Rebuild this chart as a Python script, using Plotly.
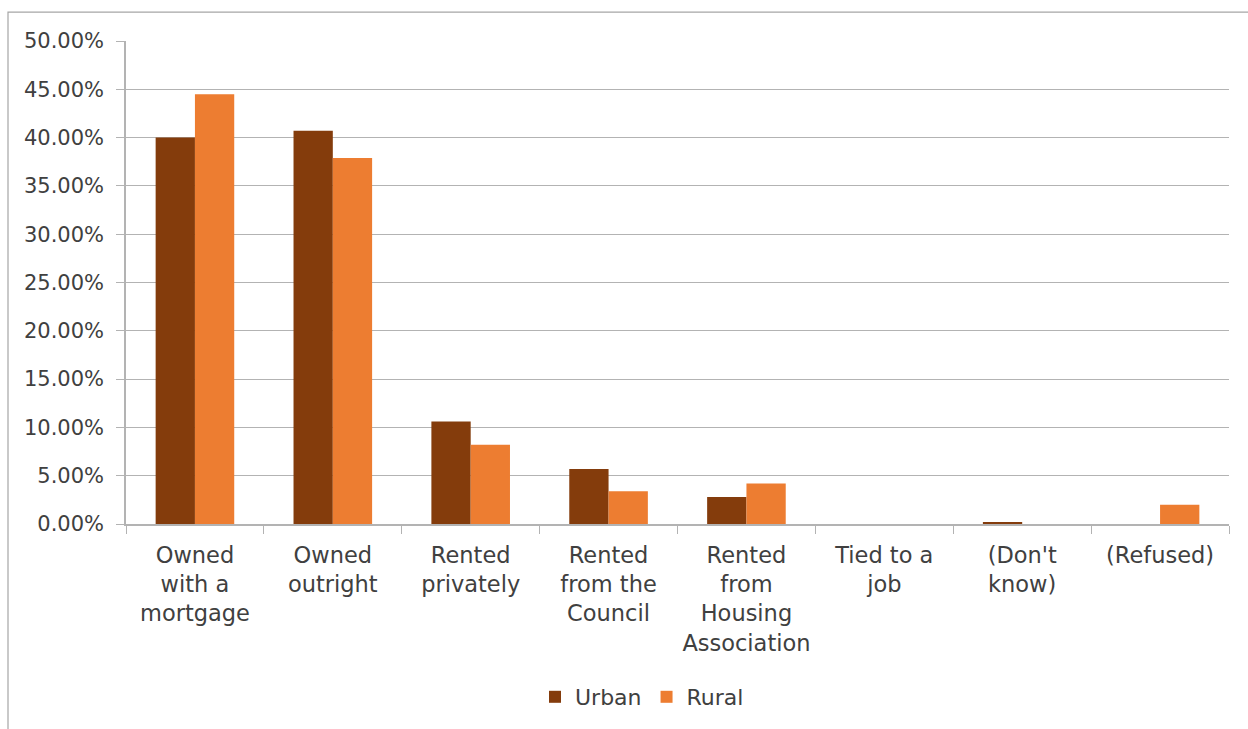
import plotly.graph_objects as go

categories = [
    "Owned<br>with a<br>mortgage",
    "Owned<br>outright",
    "Rented<br>privately",
    "Rented<br>from the<br>Council",
    "Rented<br>from<br>Housing<br>Association",
    "Tied to a<br>job",
    "(Don't<br>know)",
    "(Refused)",
]
urban = [0.400, 0.407, 0.106, 0.057, 0.028, 0.0, 0.002, 0.0]
rural = [0.445, 0.379, 0.082, 0.034, 0.042, 0.0, 0.0, 0.020]
y_ticks = [i * 0.05 for i in range(11)]

FONT = "DejaVu Sans"
TEXT = "#404040"
GRID = "#b3b3b3"

fig = go.Figure()
fig.add_trace(go.Bar(name="Urban", x=categories, y=urban, marker_color="#843C0C",
                     marker_line_width=0))
fig.add_trace(go.Bar(name="Rural", x=categories, y=rural, marker_color="#ED7D31",
                     marker_line_width=0))

W, H = 1248, 729
L, R, T, B = 126, 19, 41, 204
pw, ph = W - L - R, H - T - B

fig.update_layout(
    width=W, height=H,
    margin=dict(l=L, r=R, t=T, b=B),
    paper_bgcolor="white", plot_bgcolor="white",
    barmode="group", bargap=0.43, bargroupgap=0,
    font=dict(family=FONT, size=21, color=TEXT),
    showlegend=True,
    legend=dict(orientation="h", x=(642 - L) / pw, xanchor="center",
                y=(T + ph - 697) / ph, yanchor="middle",
                font=dict(family=FONT, size=22, color=TEXT),
                itemwidth=30, traceorder="normal"),
    xaxis=dict(showline=True, linecolor=GRID, linewidth=1.5,
               ticks="outside", tickson="boundaries", ticklen=8, tickcolor=GRID,
               showgrid=False, ticklabelstandoff=10, tickangle=0, automargin=False,
               tickfont=dict(family=FONT, size=22.5, color=TEXT)),
    yaxis=dict(range=[0, 0.5], tickvals=y_ticks, tickformat=".2%",
               showline=True, linecolor=GRID, linewidth=1.5,
               ticks="outside", ticklen=8, tickcolor=GRID,
               showgrid=True, gridcolor=GRID, gridwidth=1,
               zeroline=False, ticklabelstandoff=8, automargin=False,
               tickfont=dict(family=FONT, size=21, color=TEXT)),
    shapes=[dict(type="rect", xref="paper", yref="paper",
                 x0=(8 - L) / pw, x1=(W + 40 - L) / pw,
                 y0=(T + ph - H - 20) / ph, y1=(T + ph - 12) / ph,
                 line=dict(color="#a6a6a6", width=1.2), fillcolor="rgba(0,0,0,0)",
                 layer="below")],
)

fig.write_html("out.html")
